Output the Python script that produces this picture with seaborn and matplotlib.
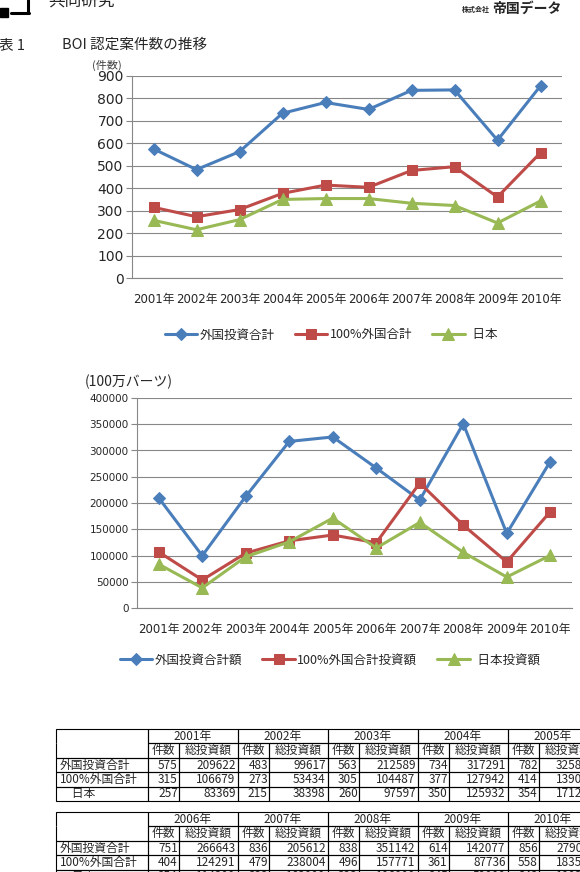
import numpy as np
import matplotlib
matplotlib.use("Agg")
import matplotlib.pyplot as plt
from matplotlib.patches import Rectangle
from matplotlib.table import Table, Cell
import seaborn as sns

years = ["2001年", "2002年", "2003年", "2004年", "2005年",
         "2006年", "2007年", "2008年", "2009年", "2010年"]

count_names = ["外国投資合計", "100%外国合計", "  日本"]
count_foreign = [575, 483, 563, 734, 782, 751, 836, 838, 614, 856]
count_full = [315, 273, 305, 377, 414, 404, 479, 496, 361, 558]
count_japan = [257, 215, 260, 350, 354, 354, 333, 323, 245, 343]

amount_names = ["外国投資合計額", "100%外国合計投資額", "  日本投資額"]
amount_foreign = [209622, 99617, 212589, 317291, 325800, 266643, 205612, 351142, 142077, 279000]
amount_full = [106679, 53434, 104487, 127942, 139000, 124291, 238004, 157771, 87736, 183500]
amount_japan = [83369, 38398, 97597, 125932, 171200, 114300, 163000, 106000, 59000, 100300]

row_labels = ["外国投資合計", "100%外国合計", "　日本"]
sub_labels = ["件数", "総投資額"]

colors = ["#4A7EBB", "#BE4B48", "#98B954"]
markers = ["D", "s", "^"]
msizes = [6.5, 7, 8]
grid_c = "#878787"

sns.set_style("white")
plt.rcParams["font.family"] = ["Noto Sans CJK JP", "DejaVu Sans"]

W, H = 580, 872
fig = plt.figure(figsize=(5.8, 8.72), dpi=100)
page = fig.add_axes([0, 0, 1, 1])
page.set_xlim(0, W)
page.set_ylim(H, 0)
page.axis("off")


def frac(left, top, right, bottom):
    return [left / W, 1 - bottom / H, (right - left) / W, (bottom - top) / H]


# header
page.plot([28, 28], [0, 13], color="k", lw=2.2)
page.plot([11, 29], [13, 13], color="k", lw=2.2)
page.add_patch(Rectangle((0, 8), 8, 9, color="k"))
page.text(48, 1, "共同研究", fontsize=12, va="center", style="italic")
page.text(462, 9, "株式会社", fontsize=5, fontweight="bold", va="center")
page.text(492, 9, "帝国データ", fontsize=10, fontweight="bold", va="center")
page.text(-1, 45, "表 1", fontsize=10.5, va="center")
page.text(62, 45, "BOI 認定案件数の推移", fontsize=10.5, va="center")


def line_chart(rect, names, series, ymax, ystep, ysize, leg_xy):
    ax = fig.add_axes(rect)
    ax.set_facecolor("none")
    x = np.arange(len(years))
    for name, vals, c, m, ms in zip(names, series, colors, markers, msizes):
        sns.lineplot(x=x, y=vals, ax=ax, color=c, marker=m, markersize=ms,
                     markeredgecolor=c, linewidth=2.2, label=name)
    ax.set_xlim(-0.5, len(years) - 0.5)
    ax.set_ylim(0, ymax)
    yt = np.arange(0, ymax + 1, ystep)
    ax.set_yticks(yt)
    ax.set_yticklabels([str(v) for v in yt], fontsize=ysize, fontfamily="DejaVu Sans")
    ax.set_xticks(x)
    ax.set_xticklabels(years, fontsize=8.5, fontfamily=["DejaVu Sans", "Noto Sans CJK JP"])
    ax.set_xticks(np.arange(-0.5, len(years)), minor=True)
    ax.tick_params(axis="x", which="major", length=0, pad=11)
    ax.tick_params(axis="x", which="minor", length=4, direction="out", color=grid_c, width=0.8)
    ax.tick_params(axis="y", length=4, direction="out", color=grid_c, width=0.8, pad=2, left=True)
    ax.grid(axis="y", color=grid_c, lw=0.8)
    ax.set_axisbelow(True)
    for s in ["top", "right"]:
        ax.spines[s].set_visible(False)
    for s in ["left", "bottom"]:
        ax.spines[s].set_color(grid_c)
        ax.spines[s].set_linewidth(0.8)
    ax.set_xlabel("")
    ax.set_ylabel("")
    ax.legend(loc="center", bbox_to_anchor=leg_xy, ncol=3, frameon=False,
              fontsize=9, handlelength=2.6, handletextpad=0.2, columnspacing=1.6)
    return ax


line_chart(frac(132, 76, 562, 278), count_names,
           [count_foreign, count_full, count_japan], 900, 100, 10, (0.463, -0.282))
page.text(92, 65, "(件数)", fontsize=8, color="#404040", va="center")

line_chart(frac(137, 398, 572, 608), amount_names,
           [amount_foreign, amount_full, amount_japan], 400000, 50000, 7.5, (0.444, -0.248))
page.text(85, 382, "(100万バーツ)", fontsize=10, va="center")

# tables
Cell.PAD = 0.04
counts = [count_foreign, count_full, count_japan]
amounts = [amount_foreign, amount_full, amount_japan]
x0, lab_w, cnt_w, amt_w, row_h = 56, 92, 31, 59, 14.4


def add_table(top, idx):
    n = len(idx)
    total_w = lab_w + n * (cnt_w + amt_w)
    head = Table(page, bbox=frac(x0, top, x0 + total_w, top + row_h))
    c = head.add_cell(0, 0, width=lab_w, height=row_h, text="", loc="left")
    c.visible_edges = "LTR"
    for j, i in enumerate(idx):
        head.add_cell(0, j + 1, width=cnt_w + amt_w, height=row_h, text=years[i], loc="center")
    body = Table(page, bbox=frac(x0, top + row_h, x0 + total_w, top + 5 * row_h))
    c = body.add_cell(0, 0, width=lab_w, height=row_h, text="", loc="left")
    c.visible_edges = "LRB"
    for j in range(n):
        body.add_cell(0, 2 * j + 1, width=cnt_w, height=row_h, text=sub_labels[0], loc="center")
        body.add_cell(0, 2 * j + 2, width=amt_w, height=row_h, text=sub_labels[1], loc="center")
    for r, lab in enumerate(row_labels):
        body.add_cell(r + 1, 0, width=lab_w, height=row_h, text=lab, loc="left")
        for j, i in enumerate(idx):
            body.add_cell(r + 1, 2 * j + 1, width=cnt_w, height=row_h, text=str(counts[r][i]), loc="right")
            body.add_cell(r + 1, 2 * j + 2, width=amt_w, height=row_h, text=str(amounts[r][i]), loc="right")
    for t in (head, body):
        t.auto_set_font_size(False)
        t.set_fontsize(8.5)
        for cell in t.get_celld().values():
            cell.set_linewidth(0.8)
            cell.set_edgecolor("black")
            cell.set_facecolor("none")
        page.add_table(t)


add_table(729, range(0, 5))
add_table(812, range(5, 10))

fig.savefig("out.png", dpi=100)
